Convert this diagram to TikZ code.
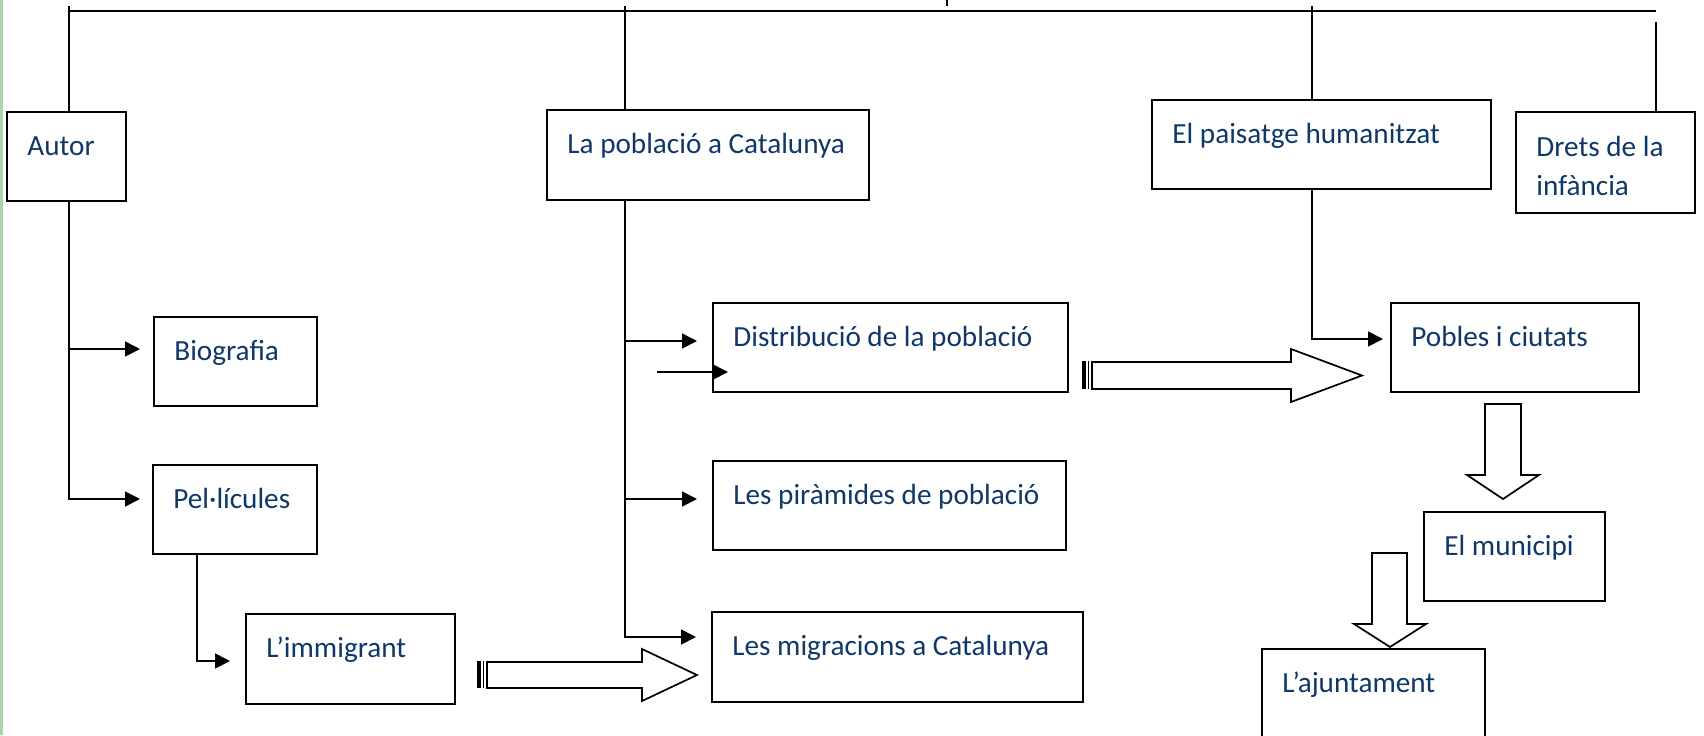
\documentclass[tikz,border=0pt]{standalone}
\usepackage{fontspec}
\setmainfont{Carlito}
\usetikzlibrary{arrows.meta,calc}
\definecolor{txtblue}{HTML}{0F3868}
\definecolor{sidegreen}{RGB}{168,214,168}
\begin{document}
\begin{tikzpicture}[x=0.5pt,y=-0.5pt,
 box/.style={draw, line width=0.85pt, inner sep=0pt},
 lbl/.style={anchor=base west, inner sep=0pt, text=txtblue, font=\fontsize{14.6}{19.5}\selectfont},
 conn/.style={line width=0.85pt},
 topline/.style={line width=0.7pt},
 arr/.style={conn, -{Triangle[length=7.5pt,width=7.5pt]}},
 blk/.style={draw, line width=0.85pt, fill=white, line join=miter},
 stripe/.style={line width=0.5pt}]

\useasboundingbox (0,0) rectangle (1704,735);
\clip (0,0) rectangle (1704,735);
\fill[sidegreen] (0,0) rectangle (3,735);

% boxes
\node[box, minimum width=59.5pt, minimum height=44.5pt] (autor) at (66.5,156.5) {};
\node[box, minimum width=161pt, minimum height=45pt] (pob) at (708,155) {};
\node[box, minimum width=169.5pt, minimum height=44.5pt] (pais) at (1321.5,144.5) {};
\node[box, minimum width=89.5pt, minimum height=50.5pt] (drets) at (1605.5,162.5) {};
\node[box, minimum width=81.5pt, minimum height=44.5pt] (bio) at (235.5,361.5) {};
\node[box, minimum width=82pt, minimum height=44.5pt] (pel) at (235,509.5) {};
\node[box, minimum width=104.5pt, minimum height=45pt] (imm) at (350.5,659) {};
\node[box, minimum width=177.5pt, minimum height=44.5pt] (dist) at (890.5,347.5) {};
\node[box, minimum width=176.5pt, minimum height=44.5pt] (pir) at (889.5,505.5) {};
\node[box, minimum width=185.5pt, minimum height=45pt] (mig) at (897.5,657) {};
\node[box, minimum width=124pt, minimum height=44.5pt] (pobl) at (1515,347.5) {};
\node[box, minimum width=90.5pt, minimum height=44.5pt] (mun) at (1514.5,556.5) {};
\node[box, minimum width=111.5pt, minimum height=65.5pt] (ajun) at (1373.5,714.5) {};

% labels
\node[lbl] (autorT) at (27,155) {Autor};
\node[lbl] (pobT) at (567,153) {La població a Catalunya};
\node[lbl] (paisT) at (1172,143) {El paisatge humanitzat};
\node[lbl] (dretsT1) at (1536,156) {Drets de la};
\node[lbl] (dretsT2) at (1536,195) {infància};
\node[lbl] (bioT) at (174,360) {Biografia};
\node[lbl] (pelT) at (173,508) {Pel·lícules};
\node[lbl] (immT) at (266,657) {L’immigrant};
\node[lbl] (distT) at (733,346) {Distribució de la població};
\node[lbl] (pirT) at (733,504) {Les piràmides de població};
\node[lbl] (migT) at (732,655) {Les migracions a Catalunya};
\node[lbl] (poblT) at (1411,346) {Pobles i ciutats};
\node[lbl] (munT) at (1444,555) {El municipi};
\node[lbl] (ajunT) at (1282,692) {L’ajuntament};

% top bar
\coordinate (tl) at (69,11);
\coordinate (tr) at (1656,11);
\draw[topline] (tl) -- (tr);
\coordinate (tick) at (947,0);
\coordinate (tickb) at (947,6);
\draw[conn] (tick) -- (tickb);
\coordinate (va) at (69,6);
\coordinate (vb) at (625,6);
\coordinate (vc) at (1312,6);
\coordinate (vd) at (1656,22);
\draw[conn] (va) -- (va |- autor.north);
\draw[conn] (vb) -- (vb |- pob.north);
\draw[conn] (vc) -- (vc |- pais.north);
\draw[conn] (vd) -- (vd |- drets.north);

% Autor branch
\coordinate (a1) at (140,349);
\coordinate (a2) at (140,499);
\draw[arr] (va |- autor.south) |- (a2);
\draw[arr] (va |- a1) -- (a1);

% Pel-licules branch
\coordinate (pv) at (197,0);
\coordinate (p1) at (230,661);
\draw[arr] (pv |- pel.south) |- (p1);

% Poblacio branch
\coordinate (b1) at (697,341);
\coordinate (b2) at (697,499);
\coordinate (b3) at (696,637);
\draw[arr] (vb |- pob.south) |- (b3);
\draw[arr] (vb |- b1) -- (b1);
\draw[arr] (vb |- b2) -- (b2);
\coordinate (e0) at (657,372);
\coordinate (e1) at (728,372);
\draw[arr] (e0) -- (e1);

% Paisatge branch
\coordinate (c1) at (1383,339);
\draw[arr] (vc |- pais.south) |- (c1);

% block arrows
\fill (1082,361) rectangle (1086,389);
\draw[stripe] (1088,361) -- (1088,389);
\draw[blk] (1092,362) -- (1291,362) -- (1291,349) -- (1362,375.5) -- (1291,402) -- (1291,389) -- (1092,389) -- cycle;
\fill (477,661) rectangle (481,688);
\draw[stripe] (483,661) -- (483,688);
\draw[blk] (487,662) -- (642,662) -- (642,649) -- (697,675) -- (642,701) -- (642,688) -- (487,688) -- cycle;
\draw[blk] (1485,404) -- (1521,404) -- (1521,475) -- (1539,475) -- (1503,499) -- (1467,475) -- (1485,475) -- cycle;
\draw[blk] (1372,553) -- (1407,553) -- (1407,624) -- (1426,624) -- (1390,647) -- (1354,624) -- (1372,624) -- cycle;
\end{tikzpicture}
\end{document}
